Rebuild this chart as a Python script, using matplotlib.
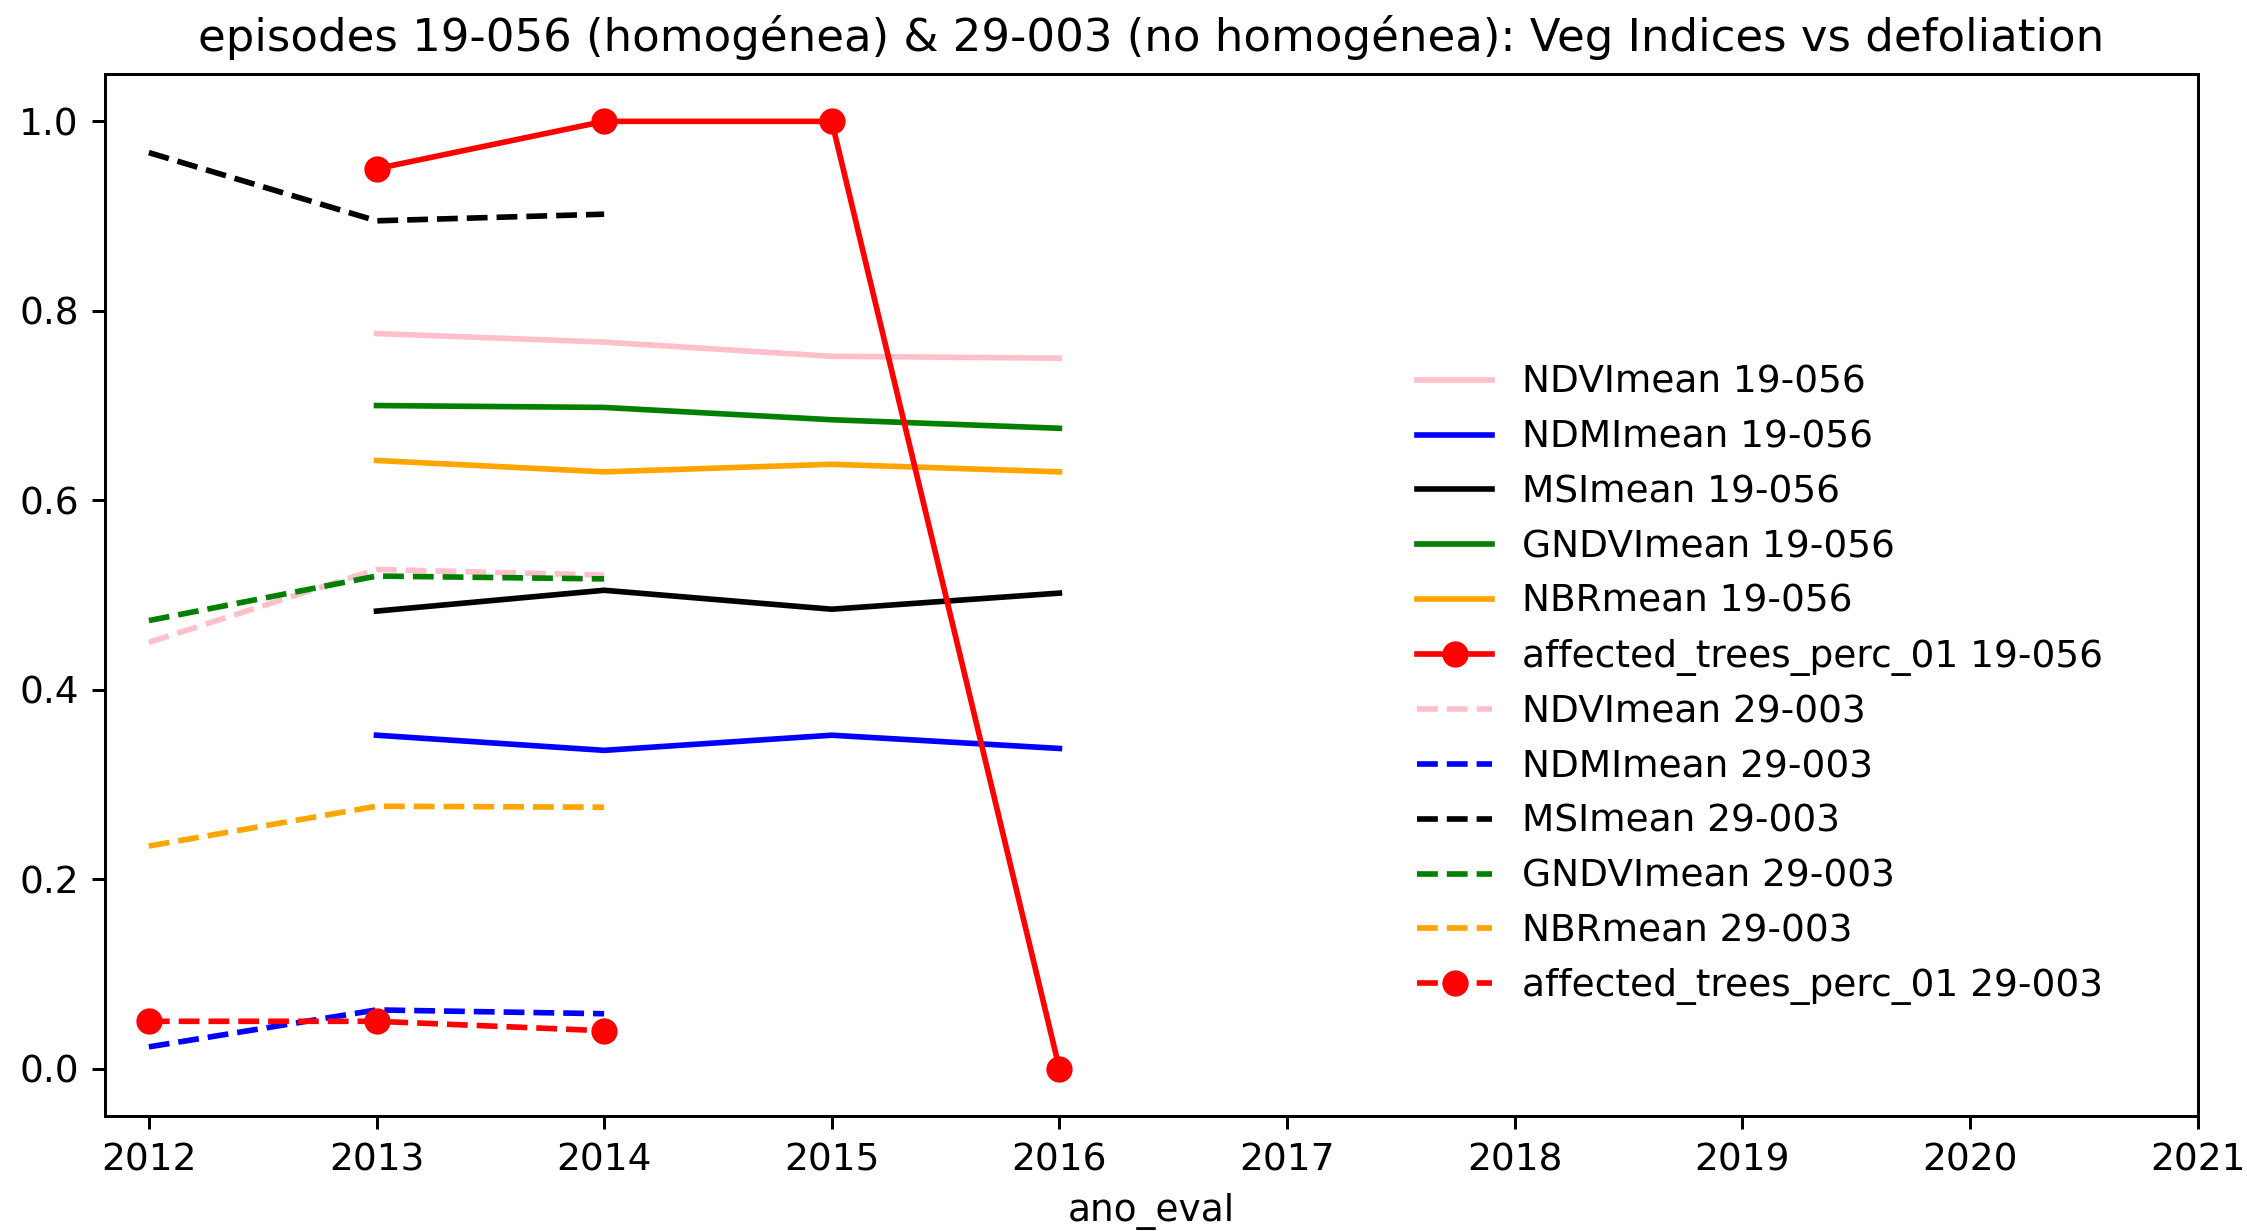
import numpy as np
import matplotlib
matplotlib.use('Agg')
import matplotlib.pyplot as plt

# years for each episode
years_19056 = [2013, 2014, 2015, 2016]
years_29003 = [2012, 2013, 2014]

# episode 19-056 (homogenea)
ndvi_19056 = [0.776, 0.767, 0.752, 0.750]
ndmi_19056 = [0.352, 0.336, 0.352, 0.338]
msi_19056 = [0.483, 0.505, 0.485, 0.502]
gndvi_19056 = [0.700, 0.698, 0.685, 0.676]
nbr_19056 = [0.642, 0.630, 0.638, 0.630]
affected_19056 = [0.95, 1.0, 1.0, 0.0]

# episode 29-003 (no homogenea)
ndvi_29003 = [0.450, 0.527, 0.521]
ndmi_29003 = [0.023, 0.062, 0.058]
msi_29003 = [0.967, 0.895, 0.902]
gndvi_29003 = [0.473, 0.520, 0.517]
nbr_29003 = [0.235, 0.277, 0.276]
affected_29003 = [0.05, 0.05, 0.04]

xticks = list(range(2012, 2022))

dpi = 270
fig = plt.figure(figsize=(2247/dpi, 1231/dpi), dpi=dpi)
ax = fig.add_axes([0.0467, 0.0934, 0.978 - 0.0467, 0.9399 - 0.0934])

# solid lines = 19-056
ax.plot(years_19056, ndvi_19056, color='pink', label='NDVImean 19-056')
ax.plot(years_19056, ndmi_19056, color='blue', label='NDMImean 19-056')
ax.plot(years_19056, msi_19056, color='black', label='MSImean 19-056')
ax.plot(years_19056, gndvi_19056, color='green', label='GNDVImean 19-056')
ax.plot(years_19056, nbr_19056, color='orange', label='NBRmean 19-056')
ax.plot(years_19056, affected_19056, color='red', marker='o', label='affected_trees_perc_01 19-056')

# dashed lines = 29-003
ax.plot(years_29003, ndvi_29003, '--', color='pink', label='NDVImean 29-003')
ax.plot(years_29003, ndmi_29003, '--', color='blue', label='NDMImean 29-003')
ax.plot(years_29003, msi_29003, '--', color='black', label='MSImean 29-003')
ax.plot(years_29003, gndvi_29003, '--', color='green', label='GNDVImean 29-003')
ax.plot(years_29003, nbr_29003, '--', color='orange', label='NBRmean 29-003')
ax.plot(years_29003, affected_29003, '--', color='red', marker='o', label='affected_trees_perc_01 29-003')

ax.set_xticks(xticks)
ax.set_xlim(2011.807, 2021)
ax.set_ylim(-0.05, 1.05)
ax.set_xlabel('ano_eval')
ax.set_title('episodes 19-056 (homogénea) & 29-003 (no homogénea): Veg Indices vs defoliation')
ax.legend(loc='center left', bbox_to_anchor=(0.611, 0.4136), frameon=False)

fig.savefig('out.png', dpi=dpi)
